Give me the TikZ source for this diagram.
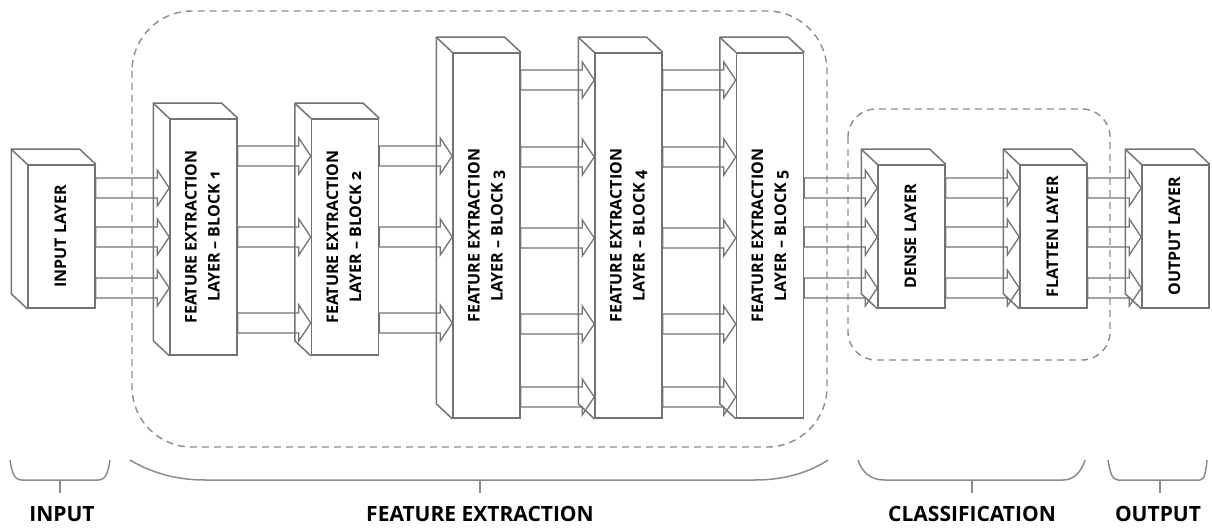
\documentclass[tikz,border=0pt]{standalone}
\usepackage{fontspec}
\usepackage{graphicx}
\usetikzlibrary{calc,backgrounds}
\newfontfamily\boxfont{Open Sans}[Numbers=OldStyle]
\newfontfamily\capfont{Open Sans}
\definecolor{edgegray}{gray}{0.45}
\definecolor{dashgray}{gray}{0.55}
\definecolor{bracegray}{gray}{0.55}

% rotated (bottom-to-top) label inside a layer face
\newcommand\layerlabel[1]{\rotatebox{90}{\begin{tabular}{@{}c@{}}#1\end{tabular}}}

% side and top faces of a layer cuboid, receding to the upper left
\newcommand\cuboid[1]{%
  \draw[edge] (#1.south west) -- ++(-16,-15)
      -- ($(#1.north west)+(-16,-15)$) -- ($(#1.north east)+(-16,-15)$)
      -- (#1.north east);
  \draw[edge] (#1.north west) -- ($(#1.north west)+(-16,-15)$);
}

% hollow block arrow between two layers at height #3
\newcommand\flowarrow[3]{%
  \draw[flow] ($(#1.east |- 0,#3)+(0,-10)$) -- ($(#2.west |- 0,#3)+(-12,-10)$)
      -- ++(0,-8) -- (#2.west |- 0,#3) -- ($(#2.west |- 0,#3)+(-12,18)$)
      -- ++(0,-8) -- ($(#1.east |- 0,#3)+(0,10)$) -- cycle;
}

\tikzset{
  layer/.style={draw=edgegray, line width=1.5pt, fill=white, inner sep=0pt,
    minimum width=67pt, font=\boxfont\bfseries\fontsize{16}{23}\selectfont},
  edge/.style={draw=edgegray, line width=1.5pt, line join=round},
  flow/.style={draw=edgegray, line width=1.3pt, fill=white, line join=miter},
  region/.style={draw=dashgray, line width=1.4pt, dash pattern=on 7pt off 5pt},
  brace/.style={draw=bracegray, line width=1.5pt},
  stage/.style={font=\capfont\bfseries\fontsize{21}{24}\selectfont, anchor=base, inner sep=0pt},
}

\begin{document}
\begin{tikzpicture}[x=1pt, y=-1pt]
\useasboundingbox (0,0) rectangle (1212,529);

% layer front faces
\node[layer, minimum height=143pt] (in) at (61.5,236.5) {\layerlabel{INPUT LAYER}};
\node[layer, minimum height=236pt] (b1) at (203.5,237) {\layerlabel{FEATURE EXTRACTION\\LAYER – BLOCK 1}};
\node[layer, minimum height=236pt] (b2) at (345,237) {\layerlabel{FEATURE EXTRACTION\\LAYER – BLOCK 2}};
\node[layer, minimum height=365pt] (b3) at (486.5,235.5) {\layerlabel{FEATURE EXTRACTION\\LAYER – BLOCK 3}};
\node[layer, minimum height=365pt] (b4) at (628.5,235.5) {\layerlabel{FEATURE EXTRACTION\\LAYER – BLOCK 4}};
\node[layer, minimum height=365pt] (b5) at (770,235.5) {\layerlabel{FEATURE EXTRACTION\\LAYER – BLOCK 5}};
\node[layer, minimum height=143pt] (dense) at (911.5,236.5) {\layerlabel{DENSE LAYER}};
\node[layer, minimum height=143pt] (flat) at (1053.5,236.5) {\layerlabel{FLATTEN LAYER}};
\node[layer, minimum height=143pt] (out) at (1175.5,236.5) {\layerlabel{OUTPUT LAYER}};

\foreach \n in {in,b1,b2,b3,b4,b5,dense,flat,out} {\cuboid{\n}}

% data flow between layers
\begin{scope}[on background layer]
  \foreach \y in {188,237,288} {\flowarrow{in}{b1}{\y}}
  \foreach \y in {156,237,323} {\flowarrow{b1}{b2}{\y} \flowarrow{b2}{b3}{\y}}
  \foreach \y in {80,157,238,324,397} {\flowarrow{b3}{b4}{\y} \flowarrow{b4}{b5}{\y}}
  \foreach \y in {188,237,288} {\flowarrow{b5}{dense}{\y} \flowarrow{dense}{flat}{\y} \flowarrow{flat}{out}{\y}}
\end{scope}

% grouping regions
\draw[region, rounded corners=60pt] (132,11) rectangle (827,447);
\draw[region, rounded corners=28pt] (848,109) rectangle (1110,360);

% stage braces
\draw[brace] (10,460) .. controls (12,472) and (14,480) .. (22,480) -- (98,480)
  .. controls (106,480) and (108,472) .. (110,460);
\draw[brace] (60,480) -- (60,493);
\draw[brace] (130,460) .. controls (150,472) and (175,480) .. (205,480) -- (755,480)
  .. controls (785,480) and (810,472) .. (828,460);
\draw[brace] (480,480) -- (480,493);
\draw[brace] (858,460) .. controls (862,472) and (870,480) .. (885,480) -- (1063,480)
  .. controls (1075,480) and (1082,470) .. (1085,460);
\draw[brace] (972,480) -- (972,493);
\draw[brace] (1108,460) .. controls (1110,472) and (1112,480) .. (1118,480) -- (1200,480)
  .. controls (1205,480) and (1206,470) .. (1207,460);
\draw[brace] (1160,480) -- (1160,493);

% stage captions
\node[stage] (capin) at (62,521) {INPUT};
\node[stage] (capfe) at (480,521) {FEATURE EXTRACTION};
\node[stage] (capcl) at (972,521) {CLASSIFICATION};
\node[stage] (capout) at (1158,521) {OUTPUT};
\end{tikzpicture}
\end{document}
